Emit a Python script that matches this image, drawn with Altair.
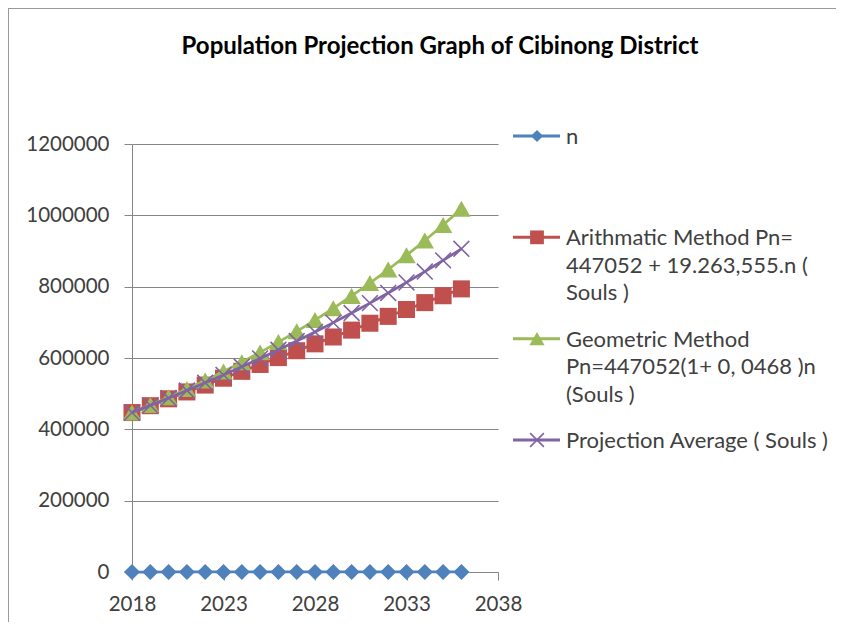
import altair as alt
import pandas as pd

# ---- data ----
years = [2018, 2019, 2020, 2021, 2022, 2023, 2024, 2025, 2026, 2027,
         2028, 2029, 2030, 2031, 2032, 2033, 2034, 2035, 2036]
n_values = [0, 1, 2, 3, 4, 5, 6, 7, 8, 9, 10, 11, 12, 13, 14, 15, 16, 17, 18]
arith_values = [447052, 466316, 485579, 504843, 524106, 543370, 562633, 581897,
                601160, 620424, 639688, 658951, 678215, 697478, 716742, 736005,
                755269, 774532, 793796]
geo_values = [447052, 467974, 489875, 512801, 536801, 561922, 588221, 615749,
              644566, 674732, 706309, 739364, 773966, 810187, 848104, 887796,
              929345, 972838, 1018367]
avg_values = [447052, 467145, 487727, 508822, 530454, 552646, 575427, 598823,
              622863, 647578, 672999, 699158, 726091, 753833, 782423, 811901,
              842307, 873685, 906082]

series_names = ["n", "Arithmatic Method", "Geometric Method", "Projection Average"]
legend_labels = [
    "n",
    "\u00a0Arithmatic Method Pn=|447052 + 19.263,555.n (|Souls )",
    "Geometric Method|Pn=447052(1+ 0, 0468 )n|(Souls )",
    "Projection Average ( Souls )",
]
series_colors = ["#4F81BD", "#C0504D", "#9BBB59", "#8064A2"]
x_ticks = [2018, 2023, 2028, 2033, 2038]
y_ticks = [0, 200000, 400000, 600000, 800000, 1000000, 1200000]

FONT = "Lato"
GRID = "#868686"
LABEL = "#404040"

# ---- tables ----
rows = []
for name, vals in zip(series_names, [n_values, arith_values, geo_values, avg_values]):
    for yr, v in zip(years, vals):
        rows.append({"year": yr, "value": v, "series": name})
df = pd.DataFrame(rows)
leg_df = pd.DataFrame({"series": series_names, "label": legend_labels})

x_enc = alt.X(
    "year:Q",
    title=None,
    scale=alt.Scale(domain=[2018, 2038], nice=False, zero=False),
    axis=alt.Axis(values=x_ticks, format="d", grid=False, domainColor=GRID,
                  tickColor=GRID, tickSize=8, labelPadding=14, labelFlush=False,
                  labelOverlap=False, labelFont=FONT, labelFontSize=20.5,
                  labelColor=LABEL),
)
y_enc = alt.Y(
    "value:Q",
    title=None,
    scale=alt.Scale(domain=[0, 1200000], nice=False),
    axis=alt.Axis(values=y_ticks, format="d", grid=True, gridColor=GRID,
                  gridWidth=1, domainColor=GRID, tickColor=GRID, tickSize=8,
                  labelPadding=15, labelFont=FONT, labelFontSize=20.5,
                  labelColor=LABEL),
)

shapes = ["diamond", "square", "triangle-up", "M-1,-1L1,1M1,-1L-1,1"]
sizes = [260, 290, 340, 250]
leg_sizes = [150, 190, 230, 190]

base = alt.Chart(df)
main_layers = []
for name, col, shp, sz in zip(series_names, series_colors, shapes, sizes):
    sub = base.transform_filter(alt.datum.series == name)
    main_layers.append(
        sub.mark_line(color=col, strokeWidth=2.75).encode(x=x_enc, y=y_enc)
    )
    if shp.startswith("M"):
        pts = sub.mark_point(shape=shp, filled=False, color=col, size=sz,
                             strokeWidth=1.6, opacity=1)
    else:
        pts = sub.mark_point(shape=shp, filled=True, color=col, size=sz, opacity=1)
    main_layers.append(pts.encode(x=x_enc, y=y_enc))

# chart-area frame (left and top edges)
one = alt.Chart(pd.DataFrame({"a": [0]}))
frame_left = one.mark_rule(color="#9A9A9A", strokeWidth=1).encode(
    x=alt.value(-123.5), y=alt.value(-136), y2=alt.value(478))
frame_top = one.mark_rule(color="#9A9A9A", strokeWidth=1).encode(
    x=alt.value(-124), x2=alt.value(704), y=alt.value(-135.5))

main = alt.layer(*main_layers, frame_left, frame_top)

# ---- legend built from the series list ----
leg_y = alt.Y("series:N", axis=None,
              scale=alt.Scale(type="point", domain=series_names,
                              range=[-8, 296], padding=0))
leg_base = alt.Chart(leg_df)
leg_layers = []
for name, col, shp, sz in zip(series_names, series_colors, shapes, leg_sizes):
    sub = leg_base.transform_filter(alt.datum.series == name)
    leg_layers.append(sub.mark_rule(color=col, strokeWidth=3).encode(
        x=alt.value(381), x2=alt.value(428), y=leg_y))
    if shp.startswith("M"):
        p = sub.mark_point(shape=shp, filled=False, color=col, size=sz,
                           strokeWidth=1.6, opacity=1)
    else:
        p = sub.mark_point(shape=shp, filled=True, color=col, size=sz, opacity=1)
    leg_layers.append(p.encode(x=alt.value(405), y=leg_y))
leg_layers.append(
    leg_base.mark_text(align="left", baseline="alphabetic", dy=8, lineBreak="|",
                       lineHeight=27.5, font=FONT, fontSize=22, color=LABEL)
    .encode(x=alt.value(434), y=leg_y, text="label:N")
)
legend = alt.layer(*leg_layers)

chart = (
    alt.layer(main, legend)
    .resolve_scale(y="independent")
    .properties(
        width=366,
        height=428,
        title=alt.TitleParams(
            "Population Projection Graph of Cibinong District",
            font=FONT, fontSize=24, fontWeight="bold", color="#000000",
            anchor="middle", frame="group", offset=0, dx=125, dy=51,
        ),
        padding={"left": 124, "top": 136, "right": 338, "bottom": 50},
        autosize=alt.AutoSizeParams(type="none"),
    )
    .configure_view(stroke=None)
)

chart.save("out.html", embed_options={"renderer": "svg", "actions": False})
